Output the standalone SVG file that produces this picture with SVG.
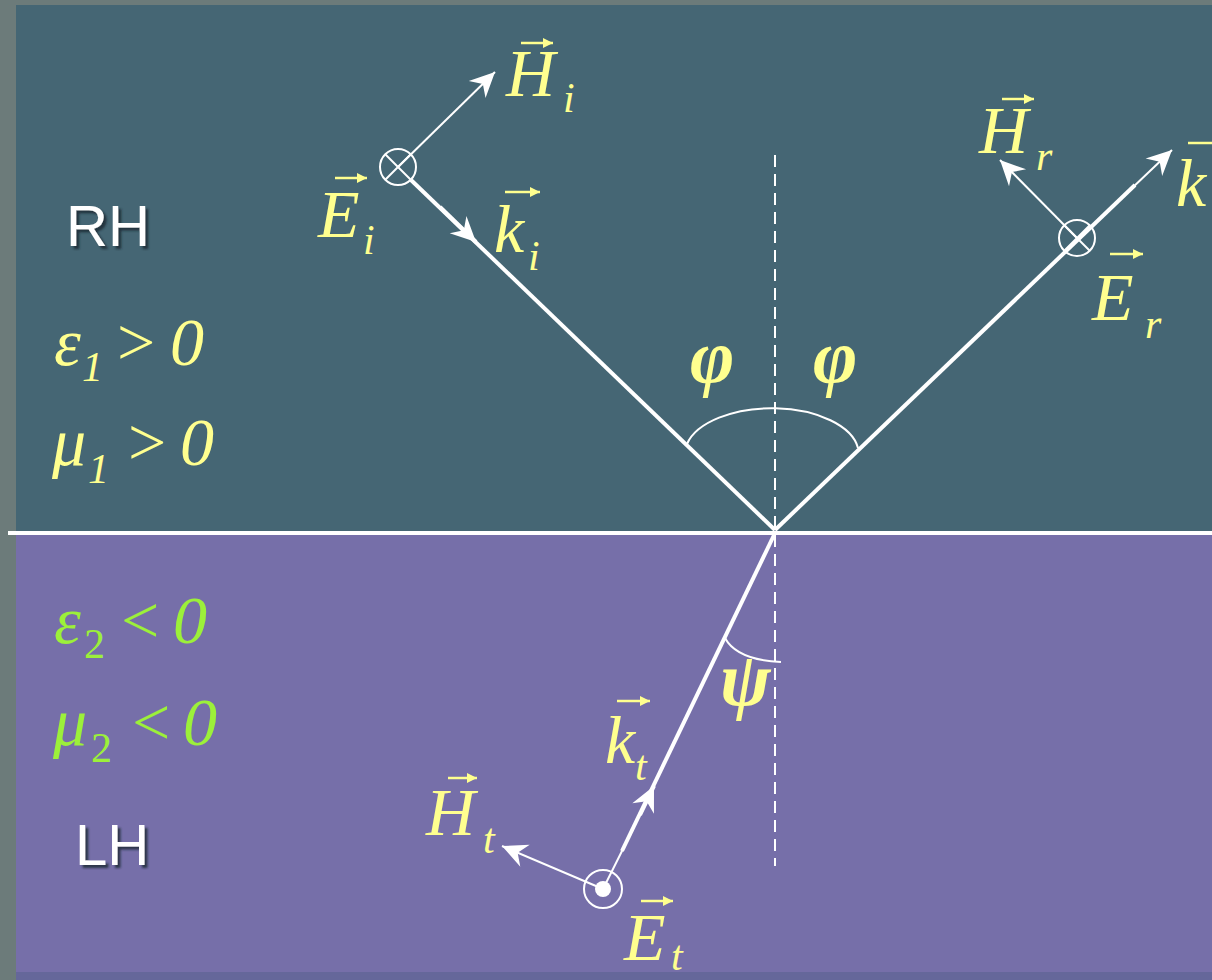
<svg xmlns="http://www.w3.org/2000/svg" width="1212" height="980" viewBox="0 0 1212 980">
<defs>
<style>
.t{font-family:"Liberation Serif","Times New Roman",serif;font-style:italic;fill:#ffff8f}
.g{font-family:"Liberation Serif","Times New Roman",serif;font-style:italic;fill:#9cf03a}
.big{font-size:68px}
.sub{font-size:42px}
.gr{font-size:76px;font-weight:bold}
.lbl{font-family:"Liberation Sans",Arial,sans-serif;font-size:58px;fill:#ffffff}
.thick{stroke:#fff;stroke-width:4;fill:none}
.thin{stroke:#fff;stroke-width:2;fill:none}
.va{stroke:#ffff8f;stroke-width:2.5;fill:none}
</style>
<marker id="wa" markerUnits="userSpaceOnUse" viewBox="-26 -13 28 26" refX="0" refY="0" markerWidth="28" markerHeight="26" orient="auto">
<path d="M0,0 L-25,-12 L-17,0 L-25,12 Z" fill="#fff"/>
</marker>
<marker id="ya" markerUnits="userSpaceOnUse" viewBox="-11 -6 12 12" refX="0" refY="0" markerWidth="12" markerHeight="12" orient="auto">
<path d="M0,0 L-10,-5 L-10,5 Z" fill="#ffff8f"/>
</marker>
<filter id="sh" x="-10%" y="-10%" width="130%" height="140%">
<feDropShadow dx="3" dy="3" stdDeviation="1" flood-color="#1c2630" flood-opacity="0.8"/>
</filter>
</defs>

<g id="background">
<rect x="0" y="0" width="1212" height="980" fill="#6c7b7a"/>
<rect x="16" y="5" width="1196" height="530" fill="#456674"/>
<rect x="16" y="535" width="1196" height="437" fill="#766fa9"/>
<rect x="16" y="972" width="1196" height="8" fill="#65679a"/>
</g>

<g id="connectors">
<line x1="8" y1="533" x2="1212" y2="533" stroke="#fff" stroke-width="4"/>
<line x1="775" y1="155" x2="775" y2="866" stroke="#fff" stroke-width="2" stroke-dasharray="12,7"/>
<line class="thick" x1="411" y1="180" x2="775" y2="530"/>
<line class="thick" x1="440" y1="207" x2="476" y2="242" marker-end="url(#wa)"/>
<line class="thin" x1="398" y1="167" x2="495" y2="72" marker-end="url(#wa)"/>
<line class="thick" x1="775" y1="530" x2="1135" y2="185"/>
<line class="thin" x1="1130" y1="190" x2="1172" y2="150" marker-end="url(#wa)"/>
<line class="thin" x1="1077" y1="238" x2="1000" y2="160" marker-end="url(#wa)"/>
<line class="thick" x1="775" y1="533" x2="622" y2="851"/>
<line class="thick" x1="640" y1="815" x2="654" y2="786" marker-end="url(#wa)"/>
<line class="thin" x1="623" y1="849" x2="603" y2="889"/>
<line class="thin" x1="603" y1="889" x2="502" y2="846" marker-end="url(#wa)"/>
<path class="thin" d="M687,444 A87,46 0 0 1 858,448"/>
<path class="thin" d="M725,638 Q737,660 781,662"/>
</g>

<g id="node-Ei-symbol">
<circle cx="398" cy="167" r="18" class="thin" stroke-width="2.5"/>
<line class="thin" x1="385" y1="154" x2="411" y2="180"/>
<line class="thin" x1="385" y1="180" x2="411" y2="154"/>
</g>
<g id="node-Er-symbol">
<circle cx="1077" cy="238" r="18" class="thin" stroke-width="2.5"/>
<line class="thin" x1="1064" y1="225" x2="1090" y2="251"/>
<line class="thin" x1="1064" y1="251" x2="1090" y2="225"/>
</g>
<g id="node-Et-symbol">
<circle cx="603" cy="889" r="19" class="thin" stroke-width="2.5"/>
<circle cx="603" cy="889" r="8" fill="#fff"/>
</g>

<g id="node-Hi">
<text class="t big" x="506" y="96">H</text>
<text class="t sub" x="563" y="112">i</text>
<line class="va" x1="521" y1="43" x2="553" y2="43" marker-end="url(#ya)"/>
</g>
<g id="node-Ei">
<text class="t big" x="318" y="237">E</text>
<text class="t sub" x="363" y="254">i</text>
<line class="va" x1="335" y1="178" x2="367" y2="178" marker-end="url(#ya)"/>
</g>
<g id="node-ki">
<text class="t big" x="494" y="252">k</text>
<text class="t sub" x="528" y="270">i</text>
<line class="va" x1="505" y1="192" x2="540" y2="192" marker-end="url(#ya)"/>
</g>
<g id="node-Hr">
<text class="t big" x="979" y="153">H</text>
<text class="t sub" x="1036" y="170">r</text>
<line class="va" x1="1002" y1="99" x2="1034" y2="99" marker-end="url(#ya)"/>
</g>
<g id="node-kr">
<text class="t big" x="1176" y="206">k</text>
<line class="va" x1="1188" y1="143" x2="1218" y2="143"/>
</g>
<g id="node-Er">
<text class="t big" x="1092" y="320">E</text>
<text class="t sub" x="1145" y="338">r</text>
<line class="va" x1="1110" y1="254" x2="1143" y2="254" marker-end="url(#ya)"/>
</g>
<g id="node-kt">
<text class="t big" x="605" y="763">k</text>
<text class="t sub" x="635" y="780">t</text>
<line class="va" x1="617" y1="701" x2="650" y2="701" marker-end="url(#ya)"/>
</g>
<g id="node-Ht">
<text class="t big" x="426" y="835">H</text>
<text class="t sub" x="483" y="853">t</text>
<line class="va" x1="448" y1="778" x2="477" y2="778" marker-end="url(#ya)"/>
</g>
<g id="node-Et">
<text class="t big" x="624" y="960">E</text>
<text class="t sub" x="671" y="970">t</text>
<line class="va" x1="641" y1="901" x2="673" y2="901" marker-end="url(#ya)"/>
</g>

<g id="node-phi">
<text class="t gr" x="690" y="382">φ</text>
<text class="t gr" x="813" y="382">φ</text>
</g>
<g id="node-psi">
<text class="t gr" x="720" y="705">ψ</text>
</g>

<g id="node-RH">
<text class="lbl" x="66" y="246" filter="url(#sh)">RH</text>
</g>
<g id="node-LH">
<text class="lbl" x="75" y="865" filter="url(#sh)">LH</text>
</g>

<g id="node-medium1">
<text class="t big" x="54" y="365">ε</text>
<text class="t sub" x="82" y="381">1</text>
<text class="t big" x="117" y="365" style="font-style:normal">&gt;</text>
<text class="t big" x="170" y="365">0</text>
<text class="t big" x="52" y="465">μ</text>
<text class="t sub" x="88" y="483">1</text>
<text class="t big" x="128" y="465" style="font-style:normal">&gt;</text>
<text class="t big" x="180" y="465">0</text>
</g>
<g id="node-medium2">
<text class="g big" x="54" y="643">ε</text>
<text class="g sub" x="84" y="658" style="font-style:normal">2</text>
<text class="g big" x="121" y="643" style="font-style:normal">&lt;</text>
<text class="g big" x="173" y="643">0</text>
<text class="g big" x="53" y="745">μ</text>
<text class="g sub" x="91" y="762" style="font-style:normal">2</text>
<text class="g big" x="132" y="745" style="font-style:normal">&lt;</text>
<text class="g big" x="183" y="745">0</text>
</g>
</svg>
